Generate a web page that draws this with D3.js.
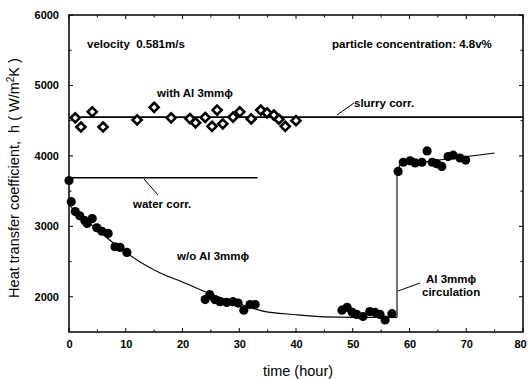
<!DOCTYPE html>
<html>
<head>
<meta charset="utf-8">
<script src="https://cdn.jsdelivr.net/npm/d3@7"></script>
<style>
body { margin: 0; background: #fff; }
text { font-family: "Liberation Sans", Arial, sans-serif; fill: #000; white-space: pre; }
</style>
</head>
<body>
<svg id="chart" width="528" height="379"></svg>
<script>
// data: [time (hour), h (W/m2K)]
var withAl = [[1.1, 4540], [2.1, 4410], [4.1, 4625], [6.0, 4410], [12.0, 4510], [15.0, 4690],
	[18.0, 4540], [21.3, 4530], [22.3, 4470], [24.0, 4545], [25.2, 4420], [26.1, 4650],
	[27.1, 4455], [28.9, 4550], [30.1, 4625], [32.1, 4525], [33.8, 4650], [34.9, 4610],
	[36.1, 4580], [37.0, 4520], [38.1, 4420], [40.0, 4500]];
var withoutAl = [[0.0, 3650], [0.4, 3350], [1.1, 3210], [1.9, 3150], [2.8, 3080], [3.2, 3040],
	[4.1, 3110], [4.9, 2980], [5.8, 2930], [6.9, 2900], [8.1, 2710], [9.0, 2700], [10.2, 2630],
	[24.0, 1960], [24.8, 2030], [25.7, 1960], [26.6, 1930], [27.8, 1920], [28.9, 1930],
	[29.8, 1910], [30.8, 1810], [31.9, 1890], [32.8, 1890],
	[48.1, 1810], [49.0, 1850], [49.9, 1780], [50.7, 1750], [51.8, 1720], [53.0, 1790],
	[53.9, 1780], [54.8, 1750], [55.7, 1670], [56.9, 1760],
	[58.0, 3780], [58.9, 3910], [60.1, 3930], [61.0, 3900], [62.2, 3910], [63.1, 4070],
	[64.0, 3910], [64.8, 3890], [65.7, 3850], [66.8, 3990], [67.7, 4010], [68.9, 3970], [69.9, 3940]];
// fitted curves
var decayFit = [[0, 3300], [5, 2950], [10, 2630], [16, 2340], [20, 2210], [25, 2040], [30, 1900],
	[34, 1800], [40, 1745], [45, 1715], [50, 1708], [57.8, 1708]];
var jumpFit = [[57.8, 1708], [57.8, 3790], [58.3, 3870], [75, 4040]];
var slurryCorr = [[0, 4550], [80, 4550]];
var waterCorr = [[0, 3690], [33.2, 3690]];

var xTicks = [0, 10, 20, 30, 40, 50, 60, 70, 80];
var yTicks = [2000, 3000, 4000, 5000, 6000];

var svg = d3.select("#chart");
var L = 69, T = 15, R = 523, B = 332;
var x = d3.scaleLinear().domain([0, 80]).range([L, R]);
var y = d3.scaleLinear().domain([1500, 6000]).range([B, T]);

// 坐标轴
var tickFont = function (g) {
	g.selectAll("text").style("font-size", "11px").style("font-weight", "bold")
		.style("font-family", "Liberation Sans, Arial, sans-serif");
	g.select(".domain").remove();
};
svg.append("g").attr("transform", "translate(0," + B + ")")
	.call(d3.axisBottom(x).tickValues(xTicks).tickFormat(d3.format("d")).tickSize(0).tickPadding(8))
	.call(tickFont)
	.selectAll("text").filter(function (d) { return d == 80; }).attr("dx", -3); // 最右标签贴边
svg.append("g").attr("transform", "translate(" + L + ",0)")
	.call(d3.axisLeft(y).tickValues(yTicks).tickFormat(d3.format("d")).tickSize(0).tickPadding(10))
	.call(tickFont);

// inward tick marks on four sides
var xt = d3.range(0, 81, 5), yt = d3.range(2000, 6001, 500);
var tk = svg.append("g").attr("stroke", "#000").attr("stroke-width", 1);
xt.forEach(function (v) {
	var len = (v % 10 == 0) ? 4 : 2.5;
	tk.append("line").attr("x1", x(v)).attr("x2", x(v)).attr("y1", B).attr("y2", B - len);
	tk.append("line").attr("x1", x(v)).attr("x2", x(v)).attr("y1", T).attr("y2", T + len);
});
yt.forEach(function (v) {
	var len = (v % 1000 == 0) ? 4 : 2.5;
	tk.append("line").attr("y1", y(v)).attr("y2", y(v)).attr("x1", L).attr("x2", L + len);
	tk.append("line").attr("y1", y(v)).attr("y2", y(v)).attr("x1", R).attr("x2", R - len);
});
svg.append("rect").attr("x", L).attr("y", T).attr("width", R - L).attr("height", B - T)
	.attr("fill", "none").attr("stroke", "#000").attr("stroke-width", 1.5);

// fitted lines
var line = d3.line().x(function (d) { return x(d[0]); }).y(function (d) { return y(d[1]); });
svg.append("path").datum(slurryCorr).attr("d", line).attr("fill", "none").attr("stroke", "#000").attr("stroke-width", 1.6);
svg.append("path").datum(waterCorr).attr("d", line).attr("fill", "none").attr("stroke", "#000").attr("stroke-width", 1.3);
svg.append("path").datum(decayFit).attr("d", line.curve(d3.curveMonotoneX)).attr("fill", "none").attr("stroke", "#000").attr("stroke-width", 1.1);
svg.append("path").datum(jumpFit).attr("d", line.curve(d3.curveLinear)).attr("fill", "none").attr("stroke", "#000").attr("stroke-width", 1.1);

// points
svg.append("g").selectAll("circle").data(withoutAl).enter().append("circle")
	.attr("cx", function (d) { return x(d[0]); })
	.attr("cy", function (d) { return y(d[1]); })
	.attr("r", 4.6).attr("fill", "#000");
var diamond = d3.symbol().type(d3.symbolDiamond2).size(52);
svg.append("g").selectAll("path").data(withAl).enter().append("path")
	.attr("d", diamond)
	.attr("transform", function (d) { return "translate(" + x(d[0]) + "," + y(d[1]) + ")"; })
	.attr("fill", "#fff").attr("stroke", "#000").attr("stroke-width", 2.6);

// annotations
var notes = [
	["velocity  0.581m/s", 87, 48],
	["particle concentration: 4.8v%", 332, 48],
	["with Al 3mmϕ", 157, 97],
	["slurry corr.", 354, 107],
	["water corr.", 133, 208],
	["w/o Al 3mmϕ", 177, 260],
	["Al 3mmϕ", 426, 283],
	["circulation", 422, 296]
];
svg.append("g").selectAll("text").data(notes).enter().append("text")
	.attr("x", function (d) { return d[1]; })
	.attr("y", function (d) { return d[2]; })
	.style("font-size", "11.5px").style("font-weight", "bold")
	.text(function (d) { return d[0]; });
var leaders = [[337, 115, 354, 103], [144, 179, 158, 195], [398, 291, 420, 283]];
svg.append("g").selectAll("line").data(leaders).enter().append("line")
	.attr("x1", function (d) { return d[0]; }).attr("y1", function (d) { return d[1]; })
	.attr("x2", function (d) { return d[2]; }).attr("y2", function (d) { return d[3]; })
	.attr("stroke", "#000").attr("stroke-width", 1);

// axis titles
svg.append("text").attr("x", 298).attr("y", 376).attr("text-anchor", "middle")
	.style("font-size", "14.5px").text("time (hour)");
var yt2 = svg.append("text").attr("transform", "translate(19,178) rotate(-90)")
	.attr("text-anchor", "middle").style("font-size", "14.5px");
yt2.append("tspan").text("Heat transfer coefficient,  h ( W/m");
yt2.append("tspan").attr("dy", -5).style("font-size", "10px").text("2");
yt2.append("tspan").attr("dy", 5).text("K )");
</script>
</body>
</html>
